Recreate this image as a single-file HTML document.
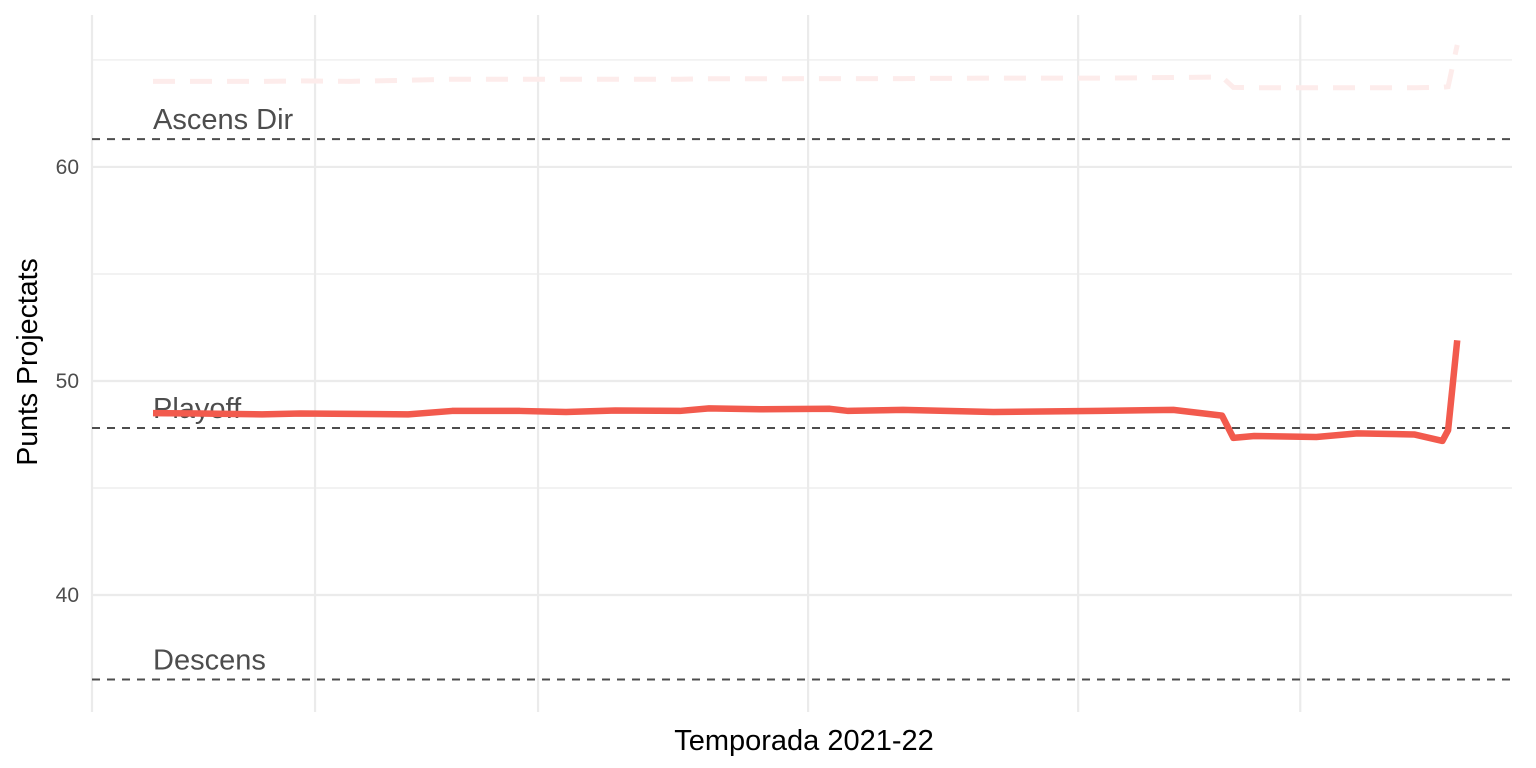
<!DOCTYPE html>
<html><head><meta charset="utf-8"><style>
html,body{margin:0;padding:0;background:#fff;}
svg{display:block;font-family:"Liberation Sans",sans-serif;}
</style></head><body>
<svg id="chart" width="1536" height="768" viewBox="0 0 1536 768" xmlns="http://www.w3.org/2000/svg">
<g id="grid"></g>
<g id="refs"></g>
<g id="series"></g>
<g id="axes"></g>
<text x="804" y="750" font-size="29" text-anchor="middle" fill="#000">Temporada 2021-22</text>
<text transform="translate(37,362) rotate(-90)" font-size="28.5" text-anchor="middle" fill="#000">Punts Projectats</text>
</svg>
<script>
const days = [0,10.8,25.1,33.8,45.3,58.7,68.8,84.4,95,106.3,121.2,127.9,139.6,155.7,159.9,172.5,193.3,217.9,234.7,245.9,248.5,253.3,267.6,277,290.1,296.6,297.9,300];
const points = [48.5,48.48,48.44,48.48,48.46,48.44,48.6,48.6,48.55,48.62,48.6,48.72,48.68,48.7,48.6,48.65,48.55,48.6,48.65,48.38,47.34,47.43,47.38,47.55,47.5,47.2,47.7,51.9];
const directPoints = [64.0,64.0,64.0,64.02,64.0,64.05,64.1,64.1,64.1,64.1,64.1,64.12,64.12,64.13,64.13,64.13,64.15,64.15,64.18,64.2,63.72,63.7,63.7,63.7,63.7,63.72,63.75,65.7];
const refValues = [61.3,47.8,36.05];
const refLabels = ["Ascens Dir","Playoff","Descens"];
const yTicks = [40,50,60];
const yMinor = [45,55,65];
const xBreaks = [-14.03,37.27,88.57,150.69,212.8,263.9];
const NS="http://www.w3.org/2000/svg";
const X0=92,X1=1512,Y0=15,Y1=705;
const xDom=[-14.03,312.6], yDom=[34.86,67.1];
function xs(d){return X0+(d-xDom[0])/(xDom[1]-xDom[0])*(X1-X0);}
function ys(v){return Y1-(v-yDom[0])/(yDom[1]-yDom[0])*(Y1-Y0);}
function mk(tag,attrs,parent){const e=document.createElementNS(NS,tag);for(const k in attrs)e.setAttribute(k,attrs[k]);parent.appendChild(e);return e;}
const grid=document.getElementById('grid'),refs=document.getElementById('refs'),series=document.getElementById('series'),axes=document.getElementById('axes');
yMinor.forEach(v=>{const l=mk('line',{x1:X0,x2:X1,y1:ys(v),y2:ys(v),stroke:'#ebebeb','stroke-width':1.2},grid);

});
yTicks.forEach(v=>{const l=mk('line',{x1:X0,x2:X1,y1:ys(v),y2:ys(v),stroke:'#ebebeb','stroke-width':2.2},grid);


const t=mk('text',{x:79,y:ys(v)+7,'font-size':21,'text-anchor':'end',fill:'#4d4d4d'},axes);t.textContent=v;

});
xBreaks.forEach(d=>{const l=mk('line',{x1:xs(d),x2:xs(d),y1:Y0,y2:712,stroke:'#ebebeb','stroke-width':2.2},grid);

});
refValues.forEach((v,i)=>{const l=mk('line',{x1:X0,x2:X1,y1:ys(v),y2:ys(v),stroke:'#4d4d4d','stroke-width':2,'stroke-dasharray':'8,7'},refs);


const t=mk('text',{x:153,y:ys(v)-10,'font-size':29,fill:'#4d4d4d'},refs);t.textContent=refLabels[i];

});
const dp=mk('polyline',{points:days.map((d,i)=>xs(d)+','+ys(directPoints[i])).join(' '),fill:'none',stroke:'#fdeceb','stroke-width':5,'stroke-dasharray':'22,15'},series);


const pl=mk('polyline',{points:days.map((d,i)=>xs(d)+','+ys(points[i])).join(' '),fill:'none',stroke:'#f25a4d','stroke-width':6.5,'stroke-linejoin':'round'},series);


</script>
</body></html>
